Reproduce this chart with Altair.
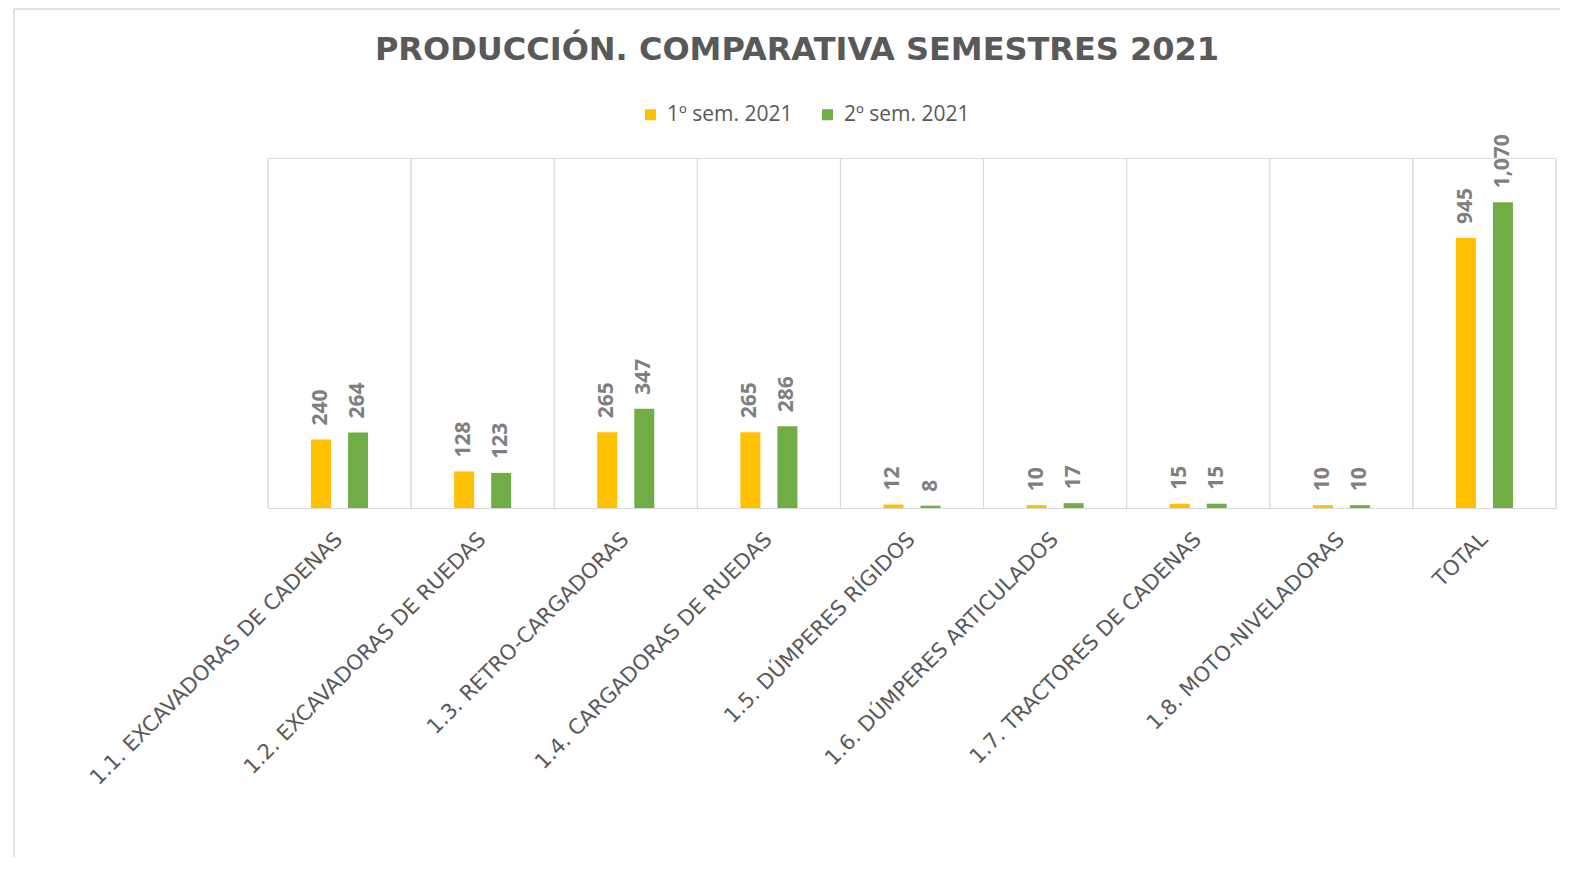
import altair as alt
import pandas as pd

title_text = "PRODUCCIÓN. COMPARATIVA SEMESTRES 2021"
categories = [
    "1.1. EXCAVADORAS DE CADENAS",
    "1.2. EXCAVADORAS DE RUEDAS",
    "1.3. RETRO-CARGADORAS",
    "1.4. CARGADORAS DE RUEDAS",
    "1.5. DÚMPERES RÍGIDOS",
    "1.6. DÚMPERES ARTICULADOS",
    "1.7. TRACTORES DE CADENAS",
    "1.8. MOTO-NIVELADORAS",
    "TOTAL",
]
series_names = ["1º sem. 2021", "2º sem. 2021"]
sem1 = [240, 128, 265, 265, 12, 10, 15, 10, 945]
sem2 = [264, 123, 347, 286, 8, 17, 15, 10, 1070]
colors = ["#FFC000", "#70AD47"]

rows = []
for c, a, b in zip(categories, sem1, sem2):
    rows.append({"cat": c, "series": series_names[0], "val": a})
    rows.append({"cat": c, "series": series_names[1], "val": b})
df = pd.DataFrame(rows)
cat_df = pd.DataFrame({"cat": categories})
one_df = pd.DataFrame({"k": [0]})
title_df = pd.DataFrame({"t": [title_text]})

W, H = 1288, 350
TEXT = "#595959"
GRID = "#d9d9d9"

x_enc = alt.X(
    "cat:N",
    sort=categories,
    scale=alt.Scale(paddingInner=0, paddingOuter=0),
    axis=alt.Axis(
        title=None,
        labelAngle=315,
        labelAlign="right",
        labelBaseline="middle",
        labelFont="DejaVu Sans",
        labelFontSize=21,
        labelColor=TEXT,
        labelPadding=28,
        labelLimit=0,
        ticks=False,
        grid=False,
        domainColor=GRID,
        domainWidth=1,
    ),
)
y_enc = alt.Y("val:Q", scale=alt.Scale(domain=[0, 1225]), axis=None)
xo_enc = alt.XOffset(
    "series:N",
    sort=series_names,
    scale=alt.Scale(paddingInner=0.135, paddingOuter=1),
)

grid0 = alt.Chart(cat_df).mark_rule(color=GRID, strokeWidth=1).encode(
    x=alt.X("cat:N", sort=categories, bandPosition=0),
    y=alt.value(0),
    y2=alt.value(H),
)
grid1 = alt.Chart(cat_df).mark_rule(color=GRID, strokeWidth=1).encode(
    x=alt.X("cat:N", sort=categories, bandPosition=1),
    y=alt.value(0),
    y2=alt.value(H),
)

# light outer frame of the chart (left and top edges)
frame_left = alt.Chart(one_df).mark_rule(color=GRID, strokeWidth=1.5).encode(
    x=alt.value(-254), y=alt.value(-149), y2=alt.value(H + 349)
)
frame_top = alt.Chart(one_df).mark_rule(color=GRID, strokeWidth=1.5).encode(
    x=alt.value(-254), x2=alt.value(W + 4), y=alt.value(-149)
)

# chart title
title_mark = alt.Chart(title_df).mark_text(
    font="DejaVu Sans",
    fontSize=32,
    fontWeight="bold",
    color=TEXT,
    align="center",
    baseline="middle",
).encode(text="t:N", x=alt.value(529), y=alt.value(-108))

bars = alt.Chart(df).mark_bar(width=20).encode(
    x=x_enc,
    y=y_enc,
    xOffset=xo_enc,
    color=alt.Color(
        "series:N",
        sort=series_names,
        scale=alt.Scale(domain=series_names, range=colors),
        legend=alt.Legend(
            orient="none",
            legendX=372,
            legendY=-54,
            direction="horizontal",
            title=None,
            symbolType="square",
            symbolSize=121,
            symbolStrokeWidth=0,
            labelFont="Open Sans",
            labelFontSize=21,
            labelColor=TEXT,
            columnPadding=24,
            labelOffset=6,
        ),
    ),
)

labels = alt.Chart(df).mark_text(
    angle=270,
    align="left",
    baseline="middle",
    dx=14,
    font="Open Sans",
    fontSize=21,
    fontWeight="bold",
    color="#7f7f7f",
).encode(
    x=alt.X("cat:N", sort=categories),
    y=y_enc,
    xOffset=xo_enc,
    text=alt.Text("val:Q", format=",d"),
)

chart = (
    alt.layer(frame_left, frame_top, grid0, grid1, bars, labels, title_mark)
    .properties(
        width=W,
        height=H,
        padding={"left": 260, "top": 150, "right": 4, "bottom": 350},
        autosize=alt.AutoSizeParams(type="none"),
    )
    .configure_view(strokeWidth=0, stroke="transparent")
    .configure(background="white")
)

chart.save("out.html", embed_options={"renderer": "svg", "actions": False})
